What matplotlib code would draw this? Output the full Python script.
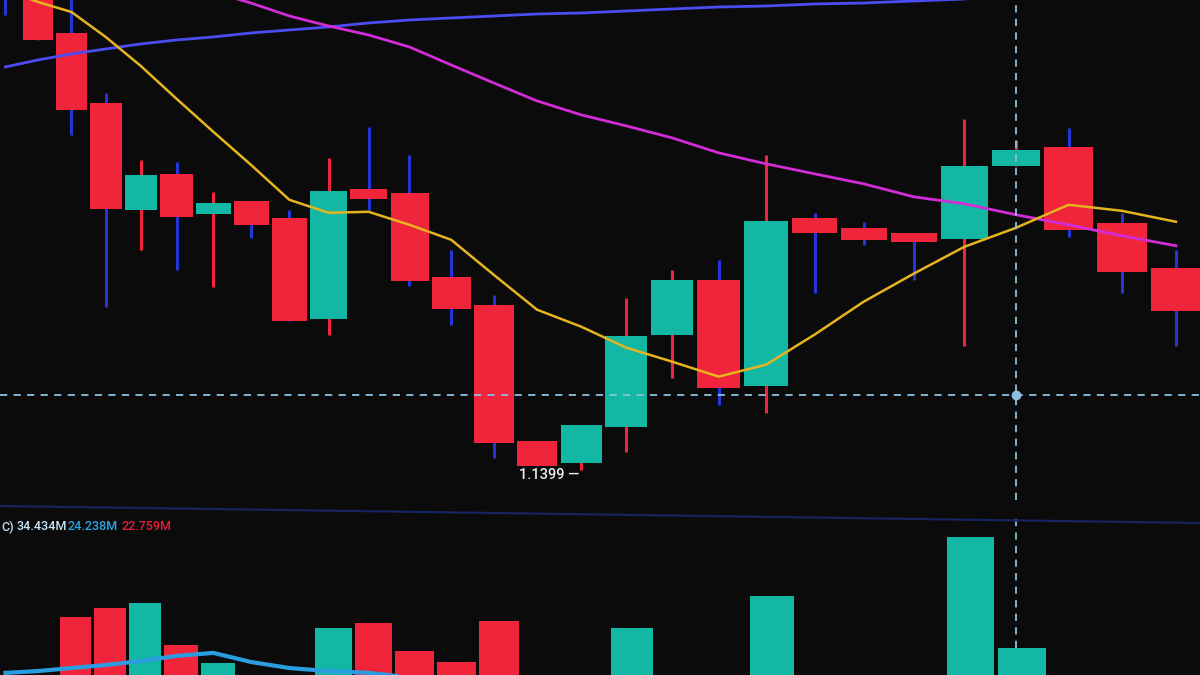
#!/usr/bin/env python
import numpy as np
import matplotlib
matplotlib.use("Agg")
import matplotlib.pyplot as plt
from matplotlib.lines import Line2D

# candles: open, high, low, close (index 0 sits mostly above the view)
opens  = [1.1660, 1.1642, 1.16155, 1.15805, 1.1527, 1.1545, 1.1525, 1.15315, 1.1523, 1.14725,
          1.15375, 1.15355, 1.14935, 1.14795, 1.14115, 1.14005, 1.14185, 1.14645, 1.1492, 1.1439,
          1.1523, 1.1518, 1.15155, 1.15125, 1.1549, 1.15585, 1.15205, 1.1498]
highs  = [1.1665, 1.16545, 1.16345, 1.15855, 1.1552, 1.1551, 1.1536, 1.15315, 1.1527, 1.1553,
          1.15685, 1.15545, 1.1507, 1.14845, 1.14115, 1.14195, 1.1483, 1.1497, 1.1502, 1.15545,
          1.15255, 1.1521, 1.15155, 1.15725, 1.1562, 1.1568, 1.15255, 1.1507]
lows   = [1.16245, 1.1612, 1.15645, 1.14785, 1.1507, 1.1497, 1.14885, 1.1513, 1.14715, 1.14645,
          1.1527, 1.1489, 1.14695, 1.1403, 1.1399, 1.1397, 1.1406, 1.1443, 1.14295, 1.14255,
          1.14855, 1.15095, 1.1492, 1.1459, 1.1549, 1.15135, 1.14855, 1.1459]
closes = [1.1640, 1.1612, 1.1577, 1.15275, 1.15445, 1.15235, 1.15305, 1.15195, 1.14715, 1.15365,
          1.15325, 1.14915, 1.14775, 1.14105, 1.1399, 1.14195, 1.1464, 1.1492, 1.1438, 1.15215,
          1.15155, 1.1512, 1.1511, 1.1549, 1.1557, 1.1517, 1.1496, 1.14765]

ma_fast = [1.1637, 1.1631, 1.1626, 1.16135, 1.1599, 1.15825, 1.1566, 1.15495, 1.1532, 1.15255,
           1.1526, 1.15195, 1.1512, 1.14945, 1.1477, 1.14685, 1.1458, 1.1451, 1.14435, 1.14495,
           1.14645, 1.1481, 1.1495, 1.15085, 1.1518, 1.15295, 1.15265, 1.1521]
ma_mid  = [1.1666, 1.1661, 1.1656, 1.1651, 1.1646, 1.1641, 1.1636, 1.16305, 1.1624, 1.1619,
           1.16145, 1.16085, 1.15995, 1.15905, 1.15815, 1.15745, 1.1569, 1.1563, 1.15555, 1.155,
           1.1545, 1.154, 1.15335, 1.1530, 1.15245, 1.15195, 1.1514, 1.1509]
ma_slow = [1.15985, 1.1602, 1.1605, 1.16075, 1.161, 1.1612, 1.16135, 1.16155, 1.1617, 1.16185,
           1.16205, 1.1622, 1.1623, 1.1624, 1.1625, 1.16255, 1.16265, 1.16275, 1.16285, 1.1629,
           1.163, 1.16305, 1.16315, 1.16325, 1.1633, 1.1634, 1.16345, 1.1635]

# volume in millions
volume = [10.5, 11.0, 31.1, 34.1, 35.8, 21.9, 16.0, 11.5, 10.8, 27.5,
          29.2, 19.9, 16.3, 29.8, 11.2, 10.9, 27.5, 11.4, 11.0, 38.1,
          10.6, 10.2, 10.4, 57.5, 20.9, 11.3, 10.7, 10.5]
vol_ma = [12.7, 13.3, 14.3, 15.3, 16.6, 18.3, 19.3, 16.3, 14.3, 13.3,
          12.7, 11.2, 10.2, 9.6, 9.3, 9.2, 9.2, 9.3, 9.4, 9.5,
          9.6, 9.6, 9.7, 9.8, 9.9, 9.9, 9.8, 9.7]
vol_labels = ["C)", "34.434M", "24.238M", "22.759M"]

cross_x = 24
cross_y = 1.14345
low_label = "1.1399 \u2014"

RED = "#f0243a"
TEAL = "#13b8a4"
WICK_BLUE = "#2236d6"
BG = "#0c0b0c"

# photo perspective: candles get wider to the right
def fwd(x):
    x = np.asarray(x, dtype=float)
    return 33 * (x - 1) + 0.414 * (x - 1) ** 2

def inv(y):
    y = np.asarray(y, dtype=float)
    return (-33 + np.sqrt(np.maximum(33 ** 2 + 4 * 0.414 * y, 0))) / (2 * 0.414) + 1

idx = np.arange(len(opens))
o = np.array(opens); h = np.array(highs); l = np.array(lows); c = np.array(closes)
up = c >= o
body_col = np.where(up, TEAL, RED)
wick_col = np.where(up, RED, WICK_BLUE)

fig = plt.figure(figsize=(12, 6.75), dpi=100, facecolor=BG)
ax = fig.add_axes([0, 0.26, 1, 0.74])
axv = fig.add_axes([0, 0, 1, 0.237])
for a in (ax, axv):
    a.set_facecolor(BG)
    a.set_xscale("function", functions=(fwd, inv))
    a.set_xlim(-0.17, 27.44)
    a.set_axis_off()

ax.set_ylim(1.1382, 1.1632)
ax.vlines(idx, l, h, colors=wick_col, linewidth=2.2, zorder=1)
ax.bar(idx, c - o, bottom=o, width=0.92, color=body_col, linewidth=0, zorder=2)

ax.plot(idx, ma_slow, color="#4b4cf2", linewidth=2.0, zorder=3)
ax.plot(idx, ma_mid, color="#d22cd6", linewidth=2.0, zorder=3)
ax.plot(idx, ma_fast, color="#e6b41e", linewidth=1.8, zorder=3)

# crosshair
ax.axhline(cross_y, color="#8cc0e0", linewidth=1.3, dashes=(4, 3.5), zorder=4)
ax.axvline(cross_x, color="#8cc0e0", linewidth=1.3, dashes=(4, 3.5), zorder=4)
ax.plot([cross_x], [cross_y], "o", color="#8cc0e0", markersize=6, zorder=5)

i_low = int(np.argmin(l[:15]))
ax.annotate(low_label, (i_low, min(l[i_low], 1.1399)), xytext=(9, -1.5),
            textcoords="offset points", ha="center", va="top",
            color="#e8eef2", fontsize=10.5, family="Roboto", weight="medium")

# volume panel
axv.set_ylim(12, 64.8)
vcol = np.where(up, TEAL, RED)
axv.bar(idx + 0.12, volume, width=0.92, color=vcol, linewidth=0, zorder=2)
axv.plot(idx, vol_ma, color="#2a9de0", linewidth=3.0, zorder=3)
axv.vlines(cross_x, volume[cross_x], 64.8, colors="#8cc0e0", linewidth=1.3,
           linestyles=(0, (4, 3.5)), zorder=4)

# panel separator
fig.add_artist(Line2D([0, 1], [1 - 506 / 675, 1 - 523 / 675], transform=fig.transFigure,
                      color="#17235e", linewidth=1.6))

lab_cols = ["#b8dcf2", "#c8e6f8", "#2aa6e4", "#e81f3c"]
xs = [1, 17, 68, 122]
for t, col, xp in zip(vol_labels, lab_cols, xs):
    fig.text(xp / 1200, 1 - 527 / 675, t, color=col, fontsize=9, va="center",
             family="Roboto", weight="medium")

fig.savefig("out.png", dpi=100, facecolor=BG)
